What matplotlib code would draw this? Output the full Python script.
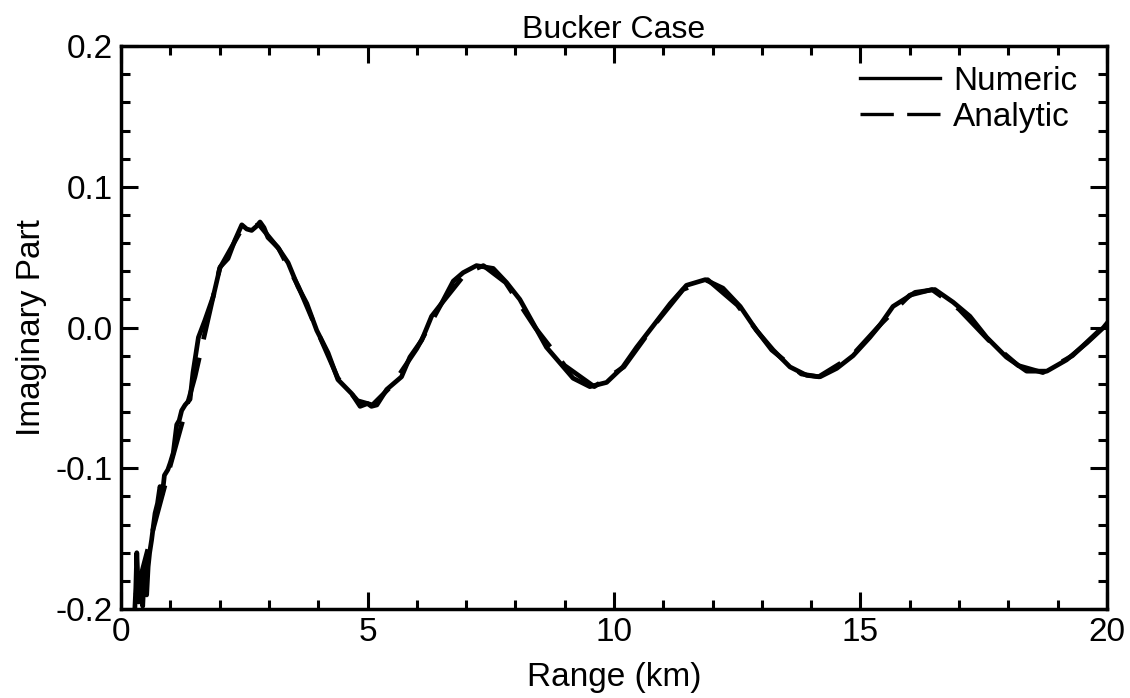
import matplotlib
matplotlib.use("Agg")
import matplotlib.pyplot as plt
from matplotlib.ticker import MultipleLocator, FormatStrFormatter

plt.rcParams['font.family'] = ['Liberation Sans', 'DejaVu Sans']
plt.rcParams['axes.unicode_minus'] = False

# values (range in km, imaginary part)
numeric_x = [0.28, 0.30, 0.32, 0.36, 0.40, 0.44, 0.48, 0.52, 0.55, 0.58, 0.62, 0.66,
             0.69, 0.74, 0.79, 0.84, 0.88, 0.95, 1.00, 1.06, 1.13, 1.18, 1.23, 1.30,
             1.40, 1.46, 1.57, 1.70, 1.87, 2.01, 2.17, 2.31, 2.45, 2.55, 2.65, 2.75,
             2.82, 2.90, 2.98, 3.18, 3.39, 3.59, 3.77, 3.97, 4.20, 4.40, 4.68, 4.85,
             5.00, 5.08, 5.19, 5.39, 5.69, 5.86, 6.10, 6.30, 6.50, 6.74, 6.94, 7.21,
             7.55, 7.82, 8.09, 8.36, 8.63, 8.90, 9.17, 9.51, 9.85, 10.18, 10.46, 10.79,
             11.14, 11.47, 11.85, 12.21, 12.56, 12.89, 13.23, 13.57, 13.91, 14.18, 14.52,
             14.85, 15.19, 15.40, 15.66, 16.11, 16.51, 16.88, 17.22, 17.56, 17.96, 18.37,
             18.78, 19.18, 19.59, 19.93, 20.0]
numeric_y = [-0.200, -0.185, -0.160, -0.195, -0.175, -0.198, -0.168, -0.190, -0.170, -0.160, -0.151, -0.140,
             -0.132, -0.125, -0.113, -0.118, -0.105, -0.101, -0.096, -0.089, -0.069, -0.066, -0.059, -0.055,
             -0.051, -0.032, -0.007, 0.005, 0.022, 0.043, 0.049, 0.062, 0.073, 0.070, 0.069, 0.072,
             0.075, 0.071, 0.064, 0.057, 0.046, 0.029, 0.017, -0.002, -0.018, -0.037, -0.047, -0.056,
             -0.054, -0.056, -0.055, -0.044, -0.035, -0.021, -0.009, 0.008, 0.017, 0.033, 0.039, 0.044,
             0.042, 0.032, 0.020, 0.003, -0.014, -0.025, -0.036, -0.042, -0.039, -0.028, -0.014, 0.001,
             0.017, 0.030, 0.034, 0.028, 0.015, -0.002, -0.016, -0.028, -0.034, -0.035, -0.029,
             -0.020, -0.007, 0.002, 0.015, 0.025, 0.027, 0.018, 0.008, -0.007, -0.021, -0.031,
             -0.031, -0.023, -0.011, 0.000, 0.003]

analytic_x = [0.30, 0.60, 1.00, 1.50, 2.00, 2.45, 2.80, 3.20, 3.60, 4.00, 4.40, 4.80, 5.10,
              5.50, 6.00, 6.50, 7.00, 7.35, 7.80, 8.40, 9.00, 9.60, 10.20, 10.80, 11.40,
              11.90, 12.50, 13.20, 13.80, 14.15, 14.80, 15.40, 16.00, 16.45, 17.00, 17.60,
              18.20, 18.70, 19.30, 20.00]
analytic_y = [-0.190, -0.150, -0.098, -0.035, 0.042, 0.070, 0.073, 0.056, 0.029, -0.004, -0.036, -0.052, -0.055,
              -0.041, -0.015, 0.017, 0.039, 0.044, 0.032, 0.000, -0.027, -0.042, -0.028, 0.001, 0.027,
              0.034, 0.016, -0.016, -0.033, -0.035, -0.021, 0.002, 0.023, 0.027, 0.013, -0.009,
              -0.027, -0.032, -0.020, 0.003]

fig = plt.figure(figsize=(11.3, 6.98), dpi=100)
ax = fig.add_axes([0.1071, 0.1275, 0.8725, 0.8065])

ax.plot(numeric_x, numeric_y, color='black', linewidth=3.4, linestyle='-', label='Numeric')
ax.plot(analytic_x, analytic_y, color='black', linewidth=3.4, linestyle=(0, (10, 4)), label='Analytic')

ax.set_xlim(0, 20)
ax.set_ylim(-0.2, 0.2)
ax.xaxis.set_major_locator(MultipleLocator(5))
ax.xaxis.set_minor_locator(MultipleLocator(1))
ax.yaxis.set_major_locator(MultipleLocator(0.1))
ax.yaxis.set_minor_locator(MultipleLocator(0.02))
ax.yaxis.set_major_formatter(FormatStrFormatter('%.1f'))

ax.tick_params(which='both', direction='in', top=True, right=True, width=2.2, labelsize=24)
ax.tick_params(which='major', length=12, pad=6)
ax.tick_params(which='minor', length=6.5)
for s in ax.spines.values():
    s.set_linewidth(2.5)

ax.set_title('Bucker Case', fontsize=23, pad=6)
ax.set_xlabel('Range (km)', fontsize=24, labelpad=10)
ax.set_ylabel('Imaginary Part', fontsize=24, labelpad=6)

leg = ax.legend(loc='upper right', bbox_to_anchor=(0.97, 0.965), frameon=False, fontsize=24,
                handlelength=2.4, handletextpad=0.4, labelspacing=0.15, borderpad=0, borderaxespad=0)
for h in leg.get_lines():
    h.set_linewidth(2.4)

fig.savefig('out.png', dpi=100)
